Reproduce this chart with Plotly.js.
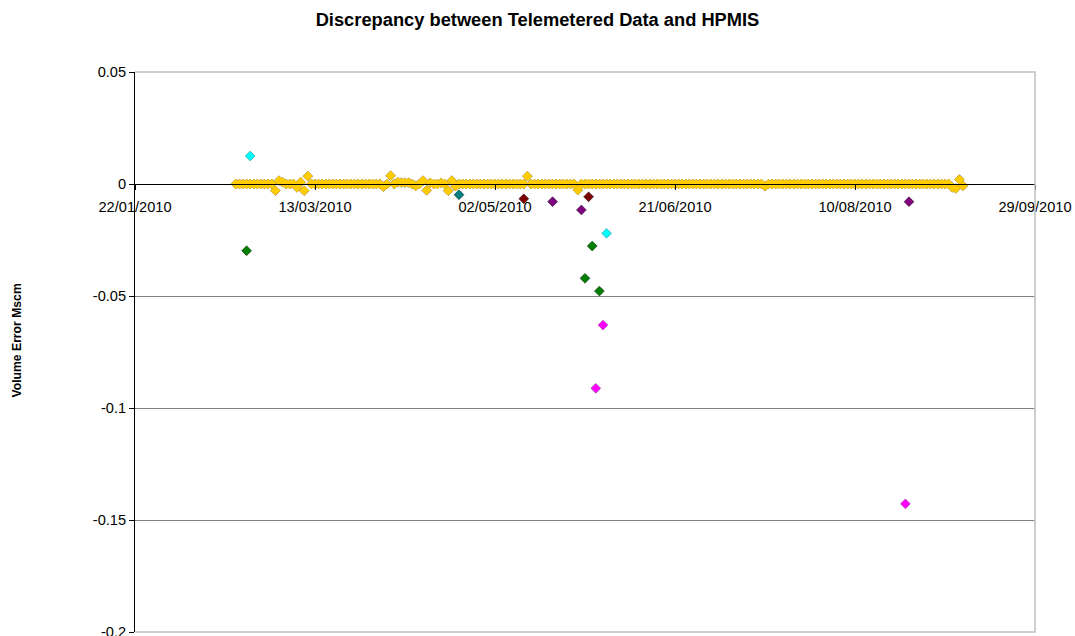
<!DOCTYPE html>
<html>
<head>
<meta charset="utf-8">
<script src="https://cdn.plot.ly/plotly-3.0.1.min.js"></script>
<style>
  html, body { margin: 0; padding: 0; background: #fff; }
  #chart { width: 1075px; height: 636px; }
</style>
</head>
<body>
<div id="chart"></div>
<script>
// ---------- DATA ----------
// Main (gold) series: one value per day starting 19/02/2010
const goldStart = '2010-02-19';
const goldValues = [
  0, 0, 0, 0, 0, 0, 0, 0, 0, 0,
  0, -0.003, 0.0015, 0.0008, 0, 0, 0, -0.0015, 0.0008, -0.003,
  0.0035, 0, 0, 0, 0, 0, 0, 0, 0, 0,
  0, 0, 0, 0, 0, 0, 0, 0, 0, 0,
  0, -0.0012, 0, 0.0037, 0, 0.0008, 0.0006, 0.0006, 0.0006, 0,
  -0.0008, 0, 0.0015, -0.0028, 0.0005, 0, 0, 0.0005, 0, -0.003,
  0.0015, -0.001, 0, 0, 0, 0, 0, 0, 0, 0,
  0, 0, 0, 0, 0, 0, 0, 0, 0, 0,
  0, 0.0035, 0, 0, 0, 0, 0, 0, 0, 0,
  0, 0, 0, 0, 0, -0.0027, 0, 0, 0, 0,
  0, 0, 0, 0, 0, 0, 0, 0, 0, 0,
  0, 0, 0, 0, 0, 0, 0, 0, 0, 0,
  0, 0, 0, 0, 0, 0, 0, 0, 0, 0,
  0, 0, 0, 0, 0, 0, 0, 0, 0, 0,
  0, 0, 0, 0, 0, 0, 0, -0.001, 0, 0,
  0, 0, 0, 0, 0, 0, 0, 0, 0, 0,
  0, 0, 0, 0, 0, 0, 0, 0, 0, 0,
  0, 0, 0, 0, 0, 0, 0, 0, 0, 0,
  0, 0, 0, 0, 0, 0, 0, 0, 0, 0,
  0, 0, 0, 0, 0, 0, 0, 0, 0, -0.0015,
  -0.002, 0.002, -0.0008
];

const cyanDates = ['2010-02-23', '2010-06-02'];
const cyanValues = [0.0125, -0.022];

const greenDates = ['2010-02-22', '2010-05-27', '2010-05-29', '2010-05-31'];
const greenValues = [-0.0298, -0.0421, -0.0277, -0.0478];

const tealDates = ['2010-04-22'];
const tealValues = [-0.0048];

const darkRedDates = ['2010-05-10', '2010-05-28'];
const darkRedValues = [-0.0066, -0.0057];

const purpleDates = ['2010-05-18', '2010-05-26', '2010-08-25'];
const purpleValues = [-0.0079, -0.0116, -0.0079];

const magentaDates = ['2010-05-30', '2010-06-01', '2010-08-24'];
const magentaValues = [-0.0912, -0.063, -0.1428];

const xTickDates = ['2010-01-22', '2010-03-13', '2010-05-02', '2010-06-21', '2010-08-10', '2010-09-29'];
const xTickLabels = ['22/01/2010', '13/03/2010', '02/05/2010', '21/06/2010', '10/08/2010', '29/09/2010'];
const yTickVals = [0.05, 0, -0.05, -0.1, -0.15, -0.2];
const yTickLabels = ['0.05', '0', '-0.05', '-0.1', '-0.15', '-0.2'];

// ---------- BUILD ----------
function dailyDates(start, n) {
  const out = [];
  const d0 = new Date(start + 'T00:00:00Z');
  for (let i = 0; i < n; i++) {
    const d = new Date(d0.getTime() + i * 86400000);
    out.push(d.toISOString().slice(0, 10));
  }
  return out;
}

const FONT = 'Liberation Sans, Arial, sans-serif';
const MS = 7.5;

function series(x, y, fill, edge, edgeWidth) {
  return {
    type: 'scatter', mode: 'markers', x: x, y: y, showlegend: false,
    hoverinfo: 'x+y',
    marker: { symbol: 'diamond', size: MS, color: fill, line: { color: edge, width: edgeWidth } }
  };
}

const goldDates = dailyDates(goldStart, goldValues.length);
const traces = [
  // outline pass for the gold band, then a fill pass so only the outer edge shows
  series(goldDates, goldValues, '#FFCC00', '#8a8070', 0.9),
  series(goldDates, goldValues, '#FFCC00', '#FFCC00', 0),
  series(cyanDates, cyanValues, '#00FFFF', '#3a9aa0', 0.7),
  series(greenDates, greenValues, '#008000', '#1a3a1a', 0.7),
  series(tealDates, tealValues, '#008080', '#1a3a3a', 0.7),
  series(darkRedDates, darkRedValues, '#800000', '#3a1a1a', 0.7),
  series(purpleDates, purpleValues, '#800080', '#3a1a3a', 0.7),
  series(magentaDates, magentaValues, '#FF00FF', '#a040a0', 0.7)
];

const layout = {
  width: 1075, height: 636,
  paper_bgcolor: '#ffffff', plot_bgcolor: '#ffffff',
  margin: { l: 135, r: 40, t: 72, b: 4 },
  font: { family: FONT, size: 14.6, color: '#000' },
  title: {
    text: '<b>Discrepancy between Telemetered Data and HPMIS</b>',
    font: { family: FONT, size: 18.3, color: '#000' },
    x: 0.5, xref: 'container', xanchor: 'center',
    y: 1 - 20 / 636, yref: 'container', yanchor: 'middle'
  },
  xaxis: {
    type: 'date',
    range: ['2010-01-22', '2010-09-29'],
    tickmode: 'array', tickvals: xTickDates, ticktext: xTickLabels,
    anchor: 'free', position: 0.8,
    showline: true, linecolor: '#000', linewidth: 1,
    ticks: 'outside', ticklen: 5, tickcolor: '#000', tickwidth: 1,
    showgrid: false, zeroline: false,
    tickfont: { family: FONT, size: 14.6, color: '#000' },
    ticklabelstandoff: 4,
    ticklabeloverflow: 'allow'
  },
  yaxis: {
    range: [-0.2, 0.05],
    tickmode: 'array', tickvals: yTickVals, ticktext: yTickLabels,
    showline: true, linecolor: '#000', linewidth: 1,
    ticks: 'outside', ticklen: 5, tickcolor: '#000', tickwidth: 1,
    showgrid: true, gridcolor: '#808080', gridwidth: 1,
    zeroline: true, zerolinecolor: '#000', zerolinewidth: 1,
    tickfont: { family: FONT, size: 14.6, color: '#000' },
    ticklabeloverflow: 'allow'
  },
  shapes: [{
    type: 'path', xref: 'paper', yref: 'paper',
    path: 'M 0 1 L 1 1 L 1 0 L 0 0',
    line: { color: '#c0c0c0', width: 1.5 }, layer: 'above'
  }],
  annotations: [{
    text: '<b>Volume Error Mscm</b>',
    xref: 'paper', yref: 'paper',
    x: (16.5 - 135) / 900, y: (632 - 341) / 560,
    xanchor: 'center', yanchor: 'middle',
    textangle: -90, showarrow: false,
    font: { family: FONT, size: 12.2, color: '#000' }
  }]
};

Plotly.newPlot('chart', traces, layout, { displayModeBar: false, staticPlot: true });
</script>
</body>
</html>
